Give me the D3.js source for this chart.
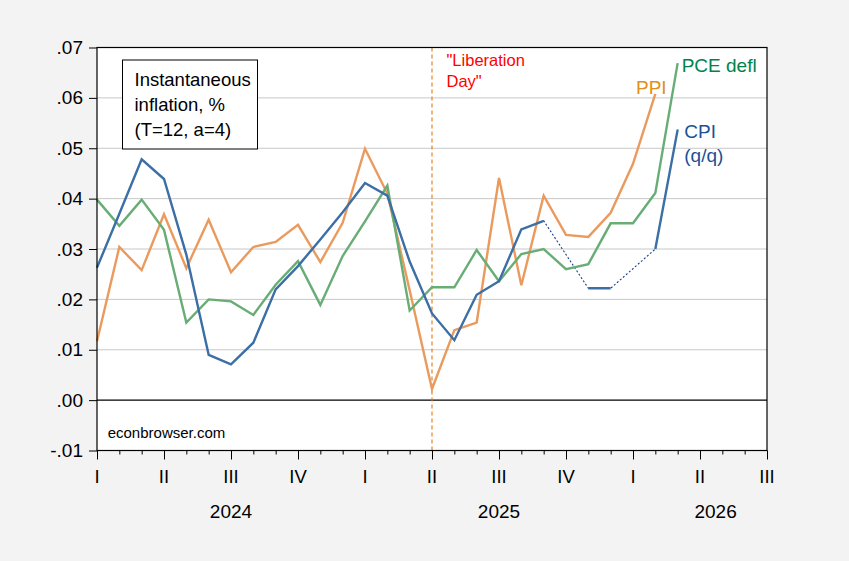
<!DOCTYPE html>
<html>
<head>
<meta charset="utf-8">
<script src="https://cdn.jsdelivr.net/npm/d3@7"></script>
<style>
  body { margin: 0; background: #f3f3f3; }
  text { font-family: "Liberation Sans", Arial, sans-serif; }
</style>
</head>
<body>
<div id="chart"></div>
<script>
// monthly readings, Jan 2024 = index 0 (null = not published)
var cpi = [.0263, .0370, .0478, .0439, .0289, .0090, .0071, .0114, .0220, .0266,
           .0319, .0373, .0431, .0406, .0275, .0172, .0119, .0209, .0236, .0339,
           .0356, null, .0222, .0222, null, .0300, .0537];
var pce = [.0398, .0346, .0398, .0338, .0154, .0200, .0196, .0169, .0229, .0276,
           .0189, .0286, .0355, .0426, .0178, .0224, .0224, .0298, .0236, .0290,
           .0300, .0260, .0270, .0351, .0351, .0411, .0669];
var ppi = [.0117, .0304, .0258, .0369, .0262, .0358, .0254, .0304, .0314, .0348,
           .0274, .0352, .0499, .0410, .0218, .0022, .0139, .0154, .0441, .0228,
           .0406, .0328, .0324, .0372, .0469, .0608];

var quarterLabels = ["I", "II", "III", "IV", "I", "II", "III", "IV", "I", "II", "III"];
var years = ["2024", "2025", "2026"];
var yearPos = [6, 18, 27.7];      // month index where each year label sits
var yTicks = [-.01, 0, .01, .02, .03, .04, .05, .06, .07];
var liberationDay = 15;           // April 2025

var svgWidth = 849;
var svgHeight = 561;
var plot = { left: 97, right: 767, top: 47.5, bottom: 450.5 };

var svg = d3.select("#chart")
  .append("svg")
  .attr("width", svgWidth)
  .attr("height", svgHeight);

svg.append("rect")
  .attr("width", svgWidth)
  .attr("height", svgHeight)
  .attr("fill", "#f3f3f3");

var x = d3.scaleLinear().domain([0, 30]).range([plot.left, plot.right]);
var y = d3.scaleLinear().domain([-.01, .07]).range([plot.bottom, plot.top]);

// plot background
svg.append("rect")
  .attr("x", plot.left)
  .attr("y", plot.top)
  .attr("width", plot.right - plot.left)
  .attr("height", plot.bottom - plot.top)
  .attr("fill", "white");

// gridlines
svg.selectAll(".grid")
  .data(yTicks.filter(d => d > 0 && d < .07))
  .enter()
  .append("line")
    .attr("x1", plot.left)
    .attr("x2", plot.right)
    .attr("y1", d => y(d))
    .attr("y2", d => y(d))
    .attr("stroke", "#c8c8c8")
    .attr("stroke-width", 1);

// zero line
svg.append("line")
  .attr("x1", plot.left).attr("x2", plot.right)
  .attr("y1", y(0)).attr("y2", y(0))
  .attr("stroke", "black")
  .attr("stroke-width", 1.2);

// "Liberation Day" marker
svg.append("line")
  .attr("x1", x(liberationDay)).attr("x2", x(liberationDay))
  .attr("y1", plot.top).attr("y2", plot.bottom)
  .attr("stroke", "#e07812")
  .attr("stroke-width", 1.1)
  .attr("stroke-dasharray", "4,3");

// y axis
var leftAxis = d3.axisLeft(y)
  .tickValues(yTicks)
  .tickSize(8)
  .tickPadding(6)
  .tickFormat(d => d3.format(".2f")(d).replace("0.", ".").replace("\u2212", "-"));

svg.append("g")
  .attr("transform", `translate(${plot.left}, 0)`)
  .call(leftAxis)
  .call(g => g.select(".domain").remove())
  .call(g => g.selectAll("line").attr("stroke", "black"))
  .call(g => g.selectAll("text")
    .attr("font-size", "19px")
    .attr("fill", "black")
    .attr("font-family", "Liberation Sans, Arial, sans-serif"));

// x axis: monthly ticks, quarter labels
var bottomAxis = d3.axisBottom(x)
  .tickValues(d3.range(0, 31))
  .tickSize(4)
  .tickFormat("");

var xAxisG = svg.append("g")
  .attr("transform", `translate(0, ${plot.bottom})`)
  .call(bottomAxis)
  .call(g => g.select(".domain").remove());

xAxisG.selectAll(".tick line")
  .attr("stroke", "black")
  .attr("y2", d => d % 3 === 0 ? 9 : 4);

svg.selectAll(".qlabel")
  .data(quarterLabels)
  .enter()
  .append("text")
    .attr("x", (d, i) => x(i * 3))
    .attr("y", 482.7)
    .attr("text-anchor", "middle")
    .attr("font-size", "18.5px")
    .attr("fill", "black")
    .text(d => d);

svg.selectAll(".ylabel")
  .data(years)
  .enter()
  .append("text")
    .attr("x", (d, i) => x(yearPos[i]))
    .attr("y", 518.3)
    .attr("text-anchor", "middle")
    .attr("font-size", "19px")
    .attr("fill", "black")
    .text(d => d);

// series lines
var line = d3.line()
  .defined(d => d != null)
  .x((d, i) => x(i))
  .y(d => y(d));

// dotted bridge over unpublished CPI months
var cpiKnown = cpi.map((d, i) => [i, d]).filter(p => p[1] != null);
svg.append("path")
  .datum(cpiKnown)
  .attr("fill", "none")
  .attr("stroke", "#143f8a")
  .attr("stroke-width", 1.1)
  .attr("stroke-dasharray", "2,2")
  .attr("d", d3.line().x(p => x(p[0])).y(p => y(p[1])));

var series = [
  { values: ppi, color: "#eb9a5d" },
  { values: pce, color: "#68ad75" },
  { values: cpi, color: "#3c6fa6" }
];

svg.selectAll(".series")
  .data(series)
  .enter()
  .append("path")
    .attr("fill", "none")
    .attr("stroke", d => d.color)
    .attr("stroke-width", 2.4)
    .attr("stroke-linejoin", "miter")
    .attr("d", d => line(d.values));

// frame
svg.append("rect")
  .attr("x", plot.left)
  .attr("y", plot.top)
  .attr("width", plot.right - plot.left)
  .attr("height", plot.bottom - plot.top)
  .attr("fill", "none")
  .attr("stroke", "black")
  .attr("stroke-width", 1.2);

// legend box
svg.append("rect")
  .attr("x", 122.5).attr("y", 60)
  .attr("width", 135).attr("height", 89)
  .attr("fill", "white")
  .attr("stroke", "black")
  .attr("stroke-width", 1);

var boxLines = ["Instantaneous", "inflation, %", "(T=12, a=4)"];
svg.selectAll(".boxtext")
  .data(boxLines)
  .enter()
  .append("text")
    .attr("x", 134.5)
    .attr("y", (d, i) => 85.7 + i * 25)
    .attr("font-size", "18.5px")
    .attr("fill", "black")
    .text(d => d);

// annotations
svg.append("text")
  .attr("x", 446.5).attr("y", 65.7)
  .attr("font-size", "16.5px").attr("fill", "#ff0000")
  .text("\"Liberation");
svg.append("text")
  .attr("x", 446.5).attr("y", 86.7)
  .attr("font-size", "16.5px").attr("fill", "#ff0000")
  .text("Day\"");

svg.append("text")
  .attr("x", 681.7).attr("y", 71.7)
  .attr("font-size", "19px").attr("fill", "#00834a")
  .text("PCE defl");
svg.append("text")
  .attr("x", 636).attr("y", 94)
  .attr("font-size", "19px").attr("fill", "#e38e16")
  .text("PPI");
svg.append("text")
  .attr("x", 684.3).attr("y", 138.3)
  .attr("font-size", "19px").attr("fill", "#1c4f96")
  .text("CPI");
svg.append("text")
  .attr("x", 684.3).attr("y", 161.7)
  .attr("font-size", "19px").attr("fill", "#1c4f96")
  .text("(q/q)");

svg.append("text")
  .attr("x", 107.7).attr("y", 438.3)
  .attr("font-size", "15px").attr("fill", "black")
  .text("econbrowser.com");
</script>
</body>
</html>
